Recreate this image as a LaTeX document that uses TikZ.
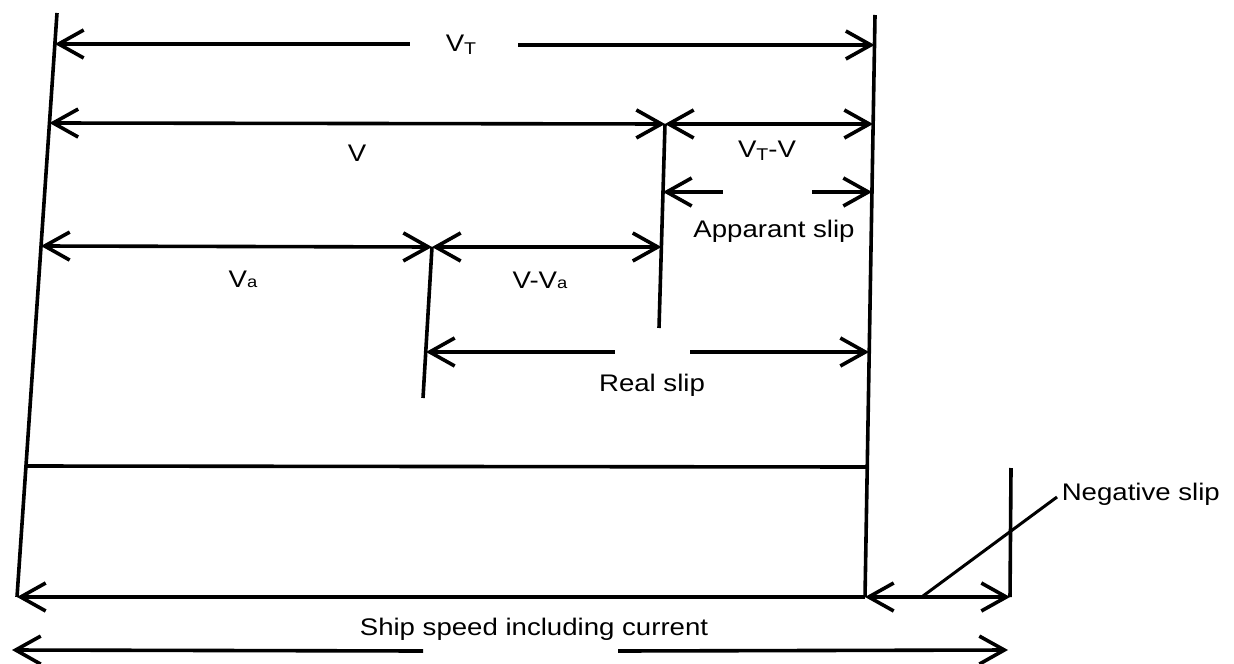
\documentclass[tikz,border=0pt]{standalone}
\usepackage{fontspec}
\setmainfont{Liberation Sans}[FakeStretch=1.15]
\usetikzlibrary{arrows.meta}
\newcommand\mysubT{\raisebox{-1.3pt}{\fontsize{8.5}{9}\selectfont T}}
\newcommand\mysuba{{\fontsize{8}{8}\selectfont a}}
\begin{document}
\begin{tikzpicture}[x=0.5pt,y=-0.5pt,line width=1.8pt,
  barb/.tip={Straight Barb[length=12.5pt,width=14pt]},
  lbl/.style={font=\fontsize{12}{14}\selectfont,anchor=base,inner sep=0pt}]
\useasboundingbox (0,0) rectangle (1234,663);
% main vertical lines
\coordinate (L1) at (57,13);   \coordinate (L2) at (17,597);
\coordinate (R1) at (875,15);  \coordinate (R2) at (865,597);
\coordinate (M1) at (665,124); \coordinate (M2) at (659,328);
\coordinate (Q1) at (432,247); \coordinate (Q2) at (423,398);
\coordinate (N1) at (1011,468);\coordinate (N2) at (1010,597);
\draw (L1) -- (L2);
\draw (R1) -- (R2);
\draw (M1) -- (M2);
\draw (Q1) -- (Q2);
\draw (N1) -- (N2);
% V_T
\coordinate (vtA) at (55,44); \coordinate (vtB) at (874.5,45);
\coordinate (vtG1) at (410,44); \coordinate (vtG2) at (518,45);
\node[lbl] (vt) at (461,52) {V\mysubT};
\draw[barb-] (vtA) -- (vtG1);
\draw[-barb] (vtG2) -- (vtB);
% V and VT-V
\coordinate (vA) at (49.5,123);
\coordinate (vB) at (873,124);
\draw[barb-barb] (vA) -- (M1);
\draw[barb-barb] (M1) -- (vB);
\node[lbl] (v) at (357,162) {V};
\node[lbl] (vtv) at (767,158) {V\mysubT-V};
% apparent slip
\coordinate (apA) at (663,192); \coordinate (apB) at (872,192);
\coordinate (apG1) at (723,192); \coordinate (apG2) at (812,192);
\draw[barb-] (apA) -- (apG1);
\draw[-barb] (apG2) -- (apB);
\node[lbl] (ap) at (774,237) {Apparant slip};
% Va and V-Va
\coordinate (vaA) at (41,246); \coordinate (vaB) at (661.4,247);
\draw[barb-barb] (vaA) -- (Q1);
\draw[barb-barb] (Q1) -- (vaB);
\node[lbl] (va) at (243,287) {V\mysuba};
\node[lbl] (vva) at (540,288) {V-V\mysuba};
% real slip
\coordinate (rsA) at (426,352); \coordinate (rsB) at (869,352);
\coordinate (rsG1) at (615,352); \coordinate (rsG2) at (690,352);
\draw[barb-] (rsA) -- (rsG1);
\draw[-barb] (rsG2) -- (rsB);
\node[lbl] (rs) at (652,391) {Real slip};
% horizontal line
\coordinate (hA) at (26,466); \coordinate (hB) at (867,467);
\draw (hA) -- (hB);
% bottom line and negative slip
\draw[barb-] (L2) -- (R2);
\draw[barb-barb] (R2) -- (N2);
\coordinate (ldA) at (923,596);
\node[lbl,anchor=base west] (ns) at (1060,500) {Negative slip};
\coordinate (ldB) at (1057,497);
\draw[line width=1.5pt] (ldA) -- (ldB);
% ship speed including current
\coordinate (ssA) at (12,650); \coordinate (ssB) at (1008,650);
\coordinate (ssG1) at (423,651); \coordinate (ssG2) at (618,651);
\draw[barb-] (ssA) -- (ssG1);
\draw[-barb] (ssG2) -- (ssB);
\node[lbl] (ss) at (534,635) {Ship speed including current};
\end{tikzpicture}
\end{document}
